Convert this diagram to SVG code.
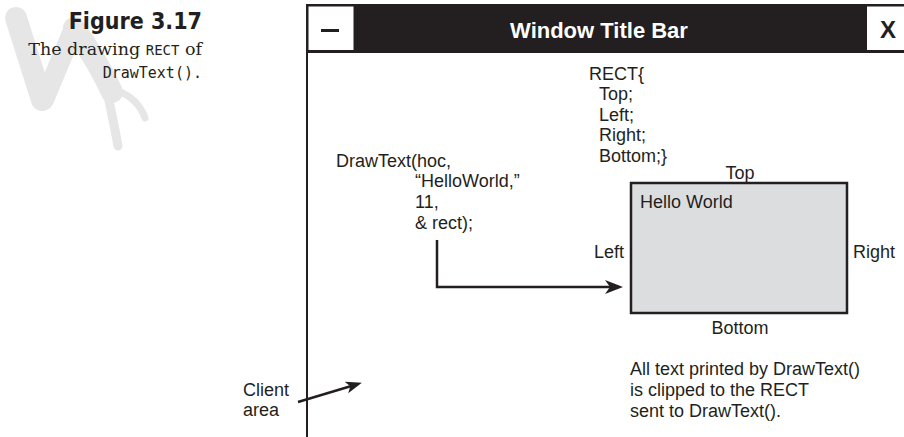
<svg xmlns="http://www.w3.org/2000/svg" width="904" height="437" viewBox="0 0 904 437">
  <style>
    .lbl { font-family: "Liberation Sans", Arial, sans-serif; font-size: 18px; fill: #231f20; }
    .title { font-family: "Liberation Sans", Arial, sans-serif; font-size: 22px; font-weight: bold; fill: #ffffff; }
    .btn { font-family: "Liberation Sans", Arial, sans-serif; font-size: 24px; font-weight: bold; fill: #231f20; }
    .cap-head { font-family: "DejaVu Sans Condensed", "DejaVu Sans", sans-serif; font-size: 23px; font-weight: bold; fill: #231f20; }
    .cap-serif { font-family: "DejaVu Serif", "Liberation Serif", serif; font-size: 17.5px; fill: #231f20; }
    .cap-mono { font-family: "DejaVu Sans Mono", "Liberation Mono", monospace; fill: #231f20; }
    .wire { fill: none; stroke: #231f20; stroke-width: 2.5; }
    .claw { fill: none; stroke: #e6e6e6; stroke-linecap: round; stroke-linejoin: round; }
  </style>
  <defs>
    <marker id="arrow" markerUnits="userSpaceOnUse" markerWidth="20" markerHeight="16" refX="14" refY="7" orient="auto">
      <path d="M0,0 L18,7 L0,14 L5,7 Z" fill="#231f20"/>
    </marker>
    <marker id="arrow-sm" markerUnits="userSpaceOnUse" markerWidth="18" markerHeight="14" refX="12" refY="6" orient="auto">
      <path d="M0,0 L16,6 L0,12 L4,6 Z" fill="#231f20"/>
    </marker>
  </defs>

  <!-- decorative claw mark behind the caption -->
  <g id="claw-mark">
    <path class="claw" stroke-width="22" d="M16,18 L42,100"/>
    <path class="claw" stroke-width="20" d="M44,100 L74,28"/>
    <path class="claw" stroke-width="22" d="M74,28 Q96,58 112,92"/>
    <path class="claw" stroke-width="7" d="M116,90 Q138,98 145,118"/>
    <path class="claw" stroke-width="9" d="M108,96 Q114,124 118,146"/>
  </g>

  <!-- caption -->
  <g id="caption">
    <text class="cap-head" x="202" y="29" text-anchor="end">Figure 3.17</text>
    <text class="cap-serif" x="202" y="55" text-anchor="end">The drawing <tspan class="cap-mono" font-size="14">RECT</tspan> of</text>
    <text class="cap-mono" x="202" y="78" font-size="15" text-anchor="end">DrawText().</text>
  </g>

  <!-- window frame with title bar -->
  <g id="title-bar">
    <rect x="306" y="4" width="600" height="49" fill="#231f20"/>
    <rect x="308.5" y="6.5" width="45" height="43.5" fill="#ffffff"/>
    <rect x="321" y="29" width="18" height="3" fill="#231f20"/>
    <rect x="867" y="6.5" width="40" height="43.5" fill="#ffffff"/>
    <text class="btn" x="888" y="38" text-anchor="middle">X</text>
    <text class="title" x="599" y="38" text-anchor="middle">Window Title Bar</text>
    <line x1="307" y1="52" x2="307" y2="437" stroke="#231f20" stroke-width="2"/>
  </g>

  <g id="rect-struct">
    <text class="lbl" x="589" y="80">RECT{</text>
    <text class="lbl" x="599" y="100">Top;</text>
    <text class="lbl" x="599" y="120.5">Left;</text>
    <text class="lbl" x="599" y="141">Right;</text>
    <text class="lbl" x="599" y="161.5">Bottom;}</text>
  </g>

  <g id="drawtext-call">
    <text class="lbl" x="336" y="166.5">DrawText(hoc,</text>
    <text class="lbl" x="415" y="187">“HelloWorld,”</text>
    <text class="lbl" x="415" y="208">11,</text>
    <text class="lbl" x="415" y="228.5">&amp; rect);</text>
  </g>

  <g id="clip-rect">
    <rect x="631" y="183" width="216" height="130" fill="#dcdddf" stroke="#231f20" stroke-width="2.5"/>
    <text class="lbl" x="640" y="207.5">Hello World</text>
    <text class="lbl" x="740" y="178.5" text-anchor="middle">Top</text>
    <text class="lbl" x="624" y="257.5" text-anchor="end">Left</text>
    <text class="lbl" x="853" y="257.5">Right</text>
    <text class="lbl" x="740" y="333.5" text-anchor="middle">Bottom</text>
  </g>

  <g id="clip-note">
    <text class="lbl" x="630" y="374.5">All text printed by DrawText()</text>
    <text class="lbl" x="630" y="396">is clipped to the RECT</text>
    <text class="lbl" x="630" y="417">sent to DrawText().</text>
  </g>

  <g id="client-area">
    <text class="lbl" x="243" y="395.5">Client</text>
    <text class="lbl" x="243" y="416">area</text>
  </g>

  <g id="connectors">
    <path class="wire" marker-end="url(#arrow)" d="M437,240 V287 H619"/>
    <path class="wire" stroke-width="2" marker-end="url(#arrow-sm)" d="M298,402 L358,384"/>
  </g>
</svg>
